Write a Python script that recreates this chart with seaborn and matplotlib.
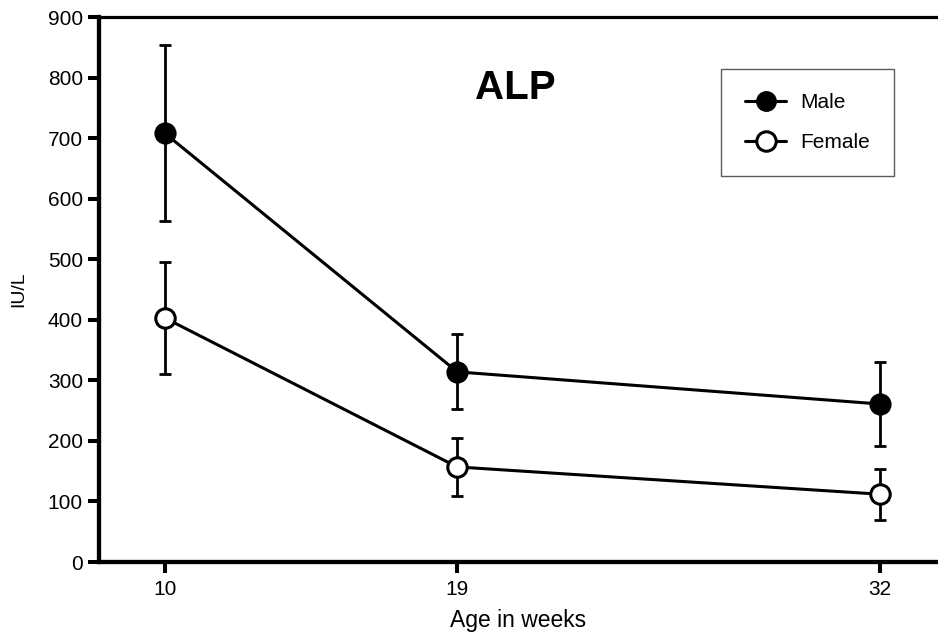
import matplotlib
matplotlib.use("Agg")
import matplotlib.pyplot as plt
import seaborn as sns
import pandas as pd
from matplotlib.lines import Line2D

sns.set_theme(style="white")
plt.rcParams["font.family"] = ["Liberation Sans", "DejaVu Sans"]
plt.rcParams.update({
    "text.color": "black",
    "axes.labelcolor": "black",
    "xtick.color": "black",
    "ytick.color": "black",
})

weeks = [10, 19, 32]
male_mean = [708, 314, 261]
male_err = [145, 62, 70]
female_mean = [403, 157, 112]
female_err = [92, 48, 42]
series = ["Male", "Female"]

df = pd.DataFrame({
    "week": weeks * 2,
    "value": male_mean + female_mean,
    "sex": ["Male"] * 3 + ["Female"] * 3,
})

fig = plt.figure(figsize=(9.38, 6.38), dpi=100)
ax = fig.add_axes([0.1055, 0.1191, 0.8945, 0.8542])

# error bars first so the markers sit on top
for mean, err in [(male_mean, male_err), (female_mean, female_err)]:
    ax.errorbar(weeks, mean, yerr=err, fmt="none", ecolor="black",
                elinewidth=2.0, capsize=4.3, capthick=2.0, zorder=2)

sns.lineplot(data=df[df.sex == "Male"], x="week", y="value", ax=ax,
             color="black", linewidth=2.2, marker="o", markersize=14,
             markerfacecolor="black", markeredgecolor="black",
             markeredgewidth=2.0, legend=False, zorder=3)
sns.lineplot(data=df[df.sex == "Female"], x="week", y="value", ax=ax,
             color="black", linewidth=2.2, marker="o", markersize=14,
             markerfacecolor="white", markeredgecolor="black",
             markeredgewidth=2.2, legend=False, zorder=3)

ax.set_xlim(7.97, 33.8)
ax.set_ylim(0, 900)
ax.set_xticks(weeks)
ax.set_yticks(range(0, 901, 100))
ax.tick_params(axis="both", which="major", direction="out", length=8,
               width=2.9, color="black", labelsize=15,
               bottom=True, left=True)
ax.tick_params(axis="y", pad=3.5)
ax.tick_params(axis="x", pad=5)

for side in ["left", "bottom"]:
    ax.spines[side].set_linewidth(3.1)
    ax.spines[side].set_color("black")
ax.spines["top"].set_linewidth(2.3)
ax.spines["top"].set_color("black")
ax.spines["right"].set_visible(False)

ax.set_xlabel("Age in weeks", fontsize=16.5, labelpad=7.5)
ax.set_ylabel("IU/L", fontsize=14, labelpad=15)

ax.text(20.8, 783, "ALP", fontsize=29, fontweight="bold",
        ha="center", va="center")

handles = [
    Line2D([], [], color="black", linewidth=2.2, marker="o", markersize=14,
           markerfacecolor="black", markeredgecolor="black"),
    Line2D([], [], color="black", linewidth=2.2, marker="o", markersize=14,
           markerfacecolor="white", markeredgecolor="black",
           markeredgewidth=2.2),
]
leg = ax.legend(handles, series, loc="upper left",
                bbox_to_anchor=(0.7414, 0.9046), frameon=True,
                fancybox=False, edgecolor="#333333", fontsize=15,
                handlelength=1.97, handletextpad=0.67, borderpad=1.15,
                labelspacing=1.0, borderaxespad=0)
leg.get_frame().set_linewidth(1.0)

fig.savefig("out.png", dpi=100)
